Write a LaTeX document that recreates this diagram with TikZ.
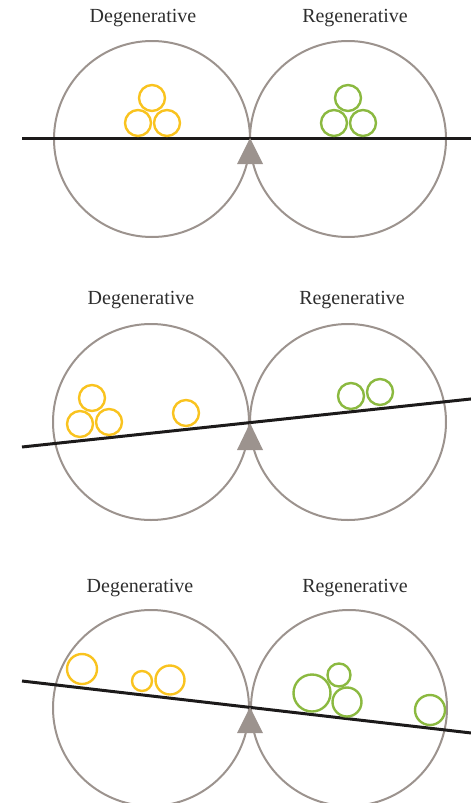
\documentclass[tikz,border=0pt]{standalone}
\usepackage{fontspec}
\setmainfont{Liberation Serif}
\definecolor{ringgray}{HTML}{9C938E}
\definecolor{degyellow}{HTML}{F9C31F}
\definecolor{reggreen}{HTML}{8BB940}
\definecolor{beam}{HTML}{1C1A1A}
\definecolor{labelgray}{HTML}{2E2E2E}
\tikzset{
  ring/.style={circle,draw=ringgray,line width=2pt,minimum size=196pt,inner sep=0pt},
  ball/.style={circle,line width=2.4pt,inner sep=0pt,minimum size=#1},
  yball/.style={ball=#1,draw=degyellow},
  gball/.style={ball=#1,draw=reggreen},
  beamline/.style={draw=beam,line width=3pt},
  pivot/.style={fill=ringgray},
  lbl/.style={text=labelgray,font=\fontsize{20}{22}\selectfont,inner sep=0pt}
}
\begin{document}
\begin{tikzpicture}[x=1pt,y=-1pt]
\useasboundingbox (0,0) rectangle (471,803);
\clip (0,0) rectangle (471,803);
% ---------- panel 1 ----------
\node[lbl] (d1) at (143,18) {Degenerative};
\node[lbl] (r1) at (355,18) {Regenerative};
\node[ring] (L1) at (152,139) {};
\node[ring] (R1) at (348,139) {};
\coordinate (a1) at (22,138);
\coordinate (b1) at (480,138);
\coordinate (p1) at (250,138);
\draw[beamline] (a1) -- (b1);
\fill[pivot] (p1) -- ++(-13,26) -- ++(26,0) -- cycle;
\node[yball=26pt] (y11) at (152,98) {};
\node[yball=26pt] (y12) at (138,123) {};
\node[yball=26pt] (y13) at (167,123) {};
\node[gball=26pt] (g11) at (348,98) {};
\node[gball=26pt] (g12) at (334,123) {};
\node[gball=26pt] (g13) at (363,123) {};
% ---------- panel 2 ----------
\node[lbl] (d2) at (141,300) {Degenerative};
\node[lbl] (r2) at (352,300) {Regenerative};
\node[ring] (L2) at (151,422) {};
\node[ring] (R2) at (348,422) {};
\coordinate (a2) at (22,447);
\coordinate (b2) at (480,398);
\coordinate (p2) at (250,423);
\draw[beamline] (a2) -- (b2);
\fill[pivot] (p2) -- ++(-13,27) -- ++(26,0) -- cycle;
\node[yball=26pt] (y21) at (92,398) {};
\node[yball=26pt] (y22) at (80,424) {};
\node[yball=26pt] (y23) at (109,422) {};
\node[yball=26pt] (y24) at (186,413) {};
\node[gball=26pt] (g21) at (351,396) {};
\node[gball=26pt] (g22) at (380,392) {};
% ---------- panel 3 ----------
\node[lbl] (d3) at (140,588) {Degenerative};
\node[lbl] (r3) at (355,588) {Regenerative};
\node[ring] (L3) at (151,708) {};
\node[ring] (R3) at (349,708) {};
\coordinate (a3) at (22,681);
\coordinate (b3) at (480,734);
\coordinate (p3) at (250,707);
\draw[beamline] (a3) -- (b3);
\fill[pivot] (p3) -- ++(-13,26) -- ++(26,0) -- cycle;
\node[yball=30pt] (y31) at (82,669) {};
\node[yball=20pt] (y32) at (142,681) {};
\node[yball=29pt] (y33) at (170,680) {};
\node[gball=37pt] (g31) at (312,693) {};
\node[gball=23pt] (g32) at (339,675) {};
\node[gball=29pt] (g33) at (347,702) {};
\node[gball=30pt] (g34) at (430,710) {};
\end{tikzpicture}
\end{document}
